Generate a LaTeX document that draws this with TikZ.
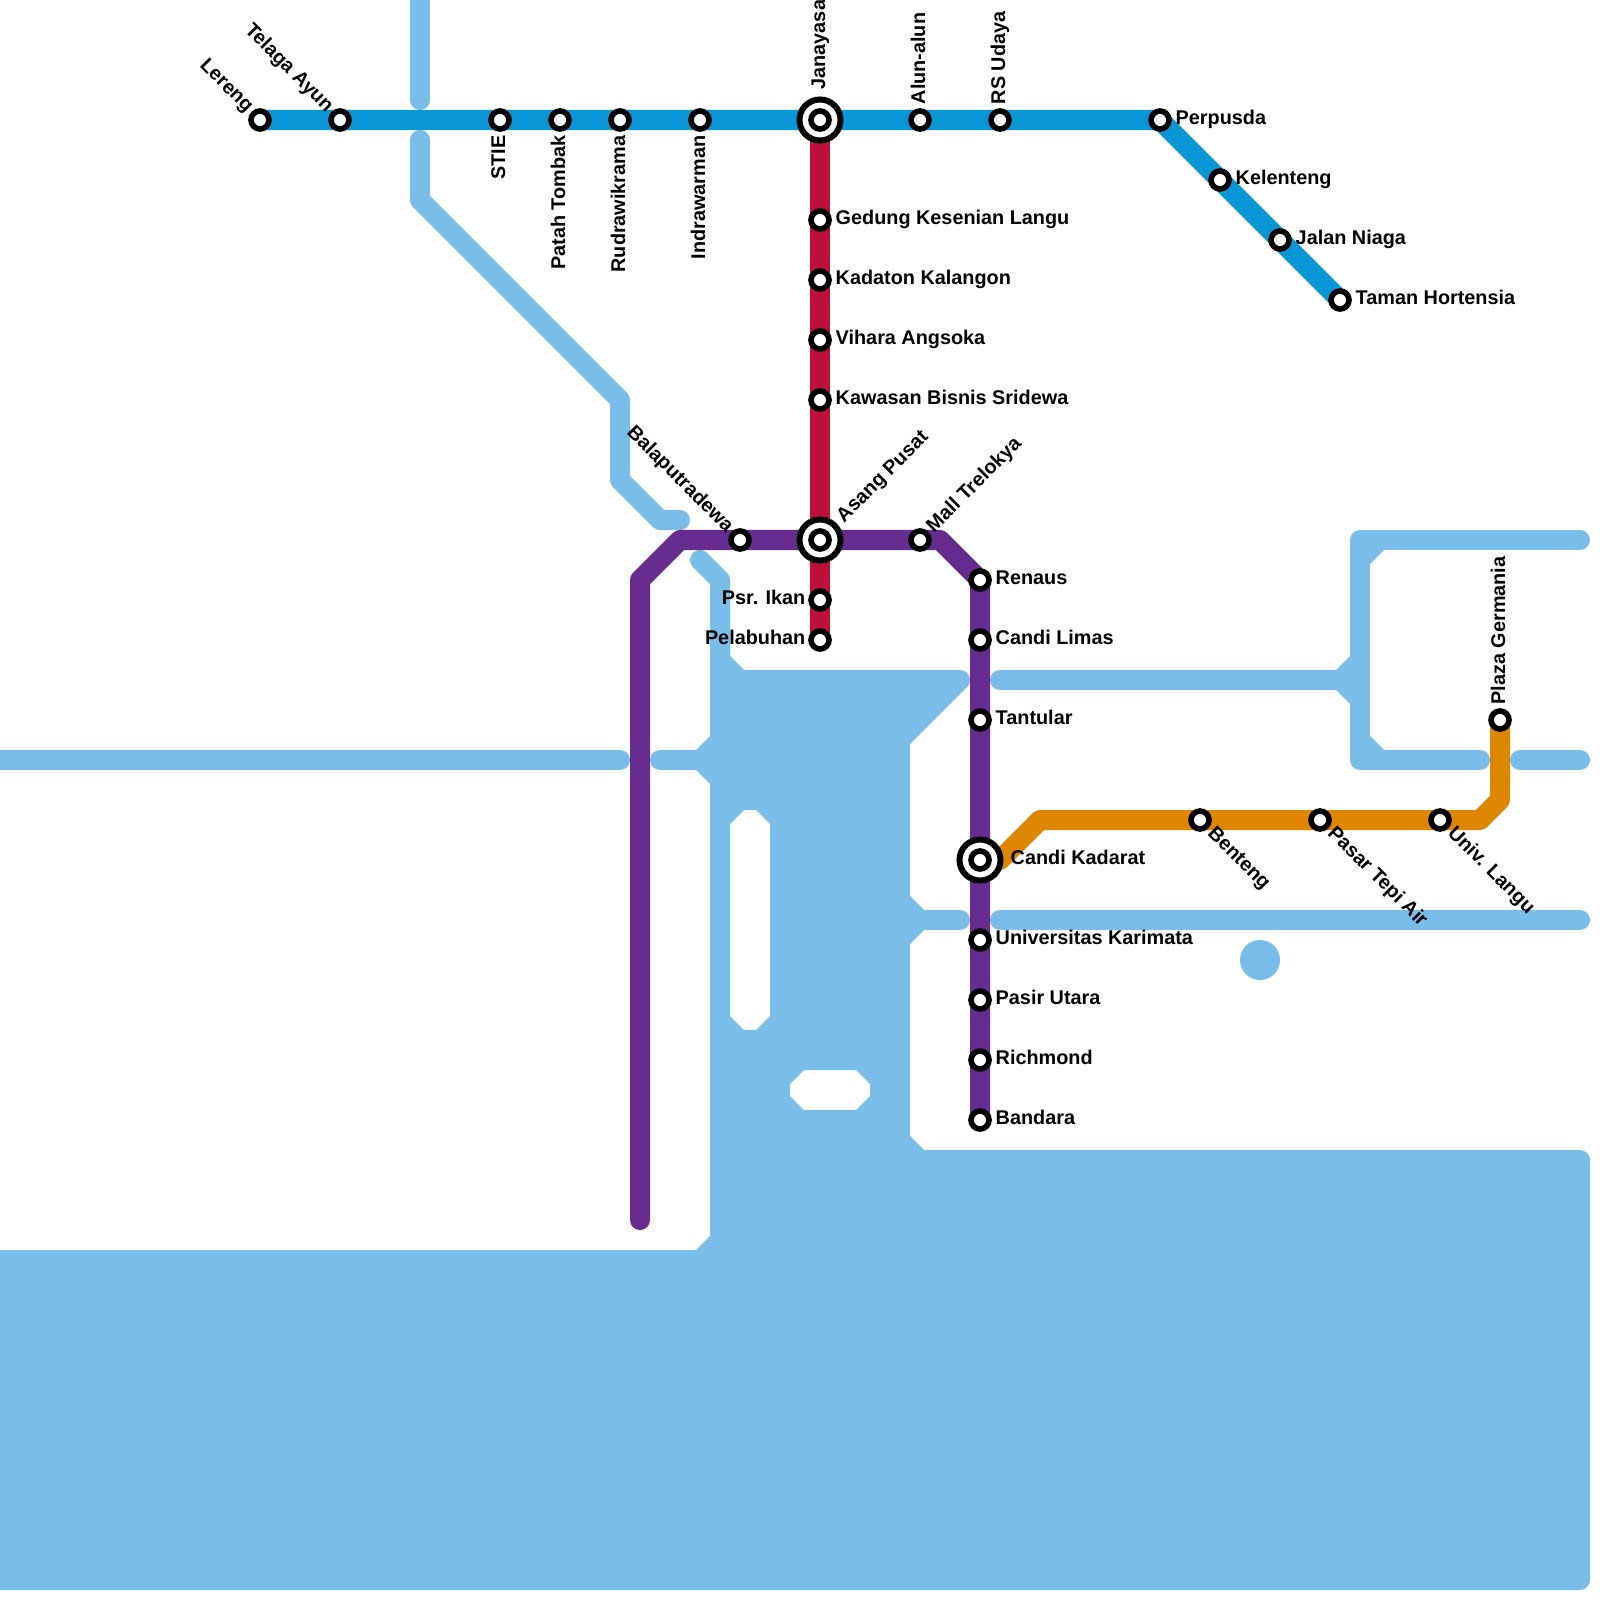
\documentclass[tikz,border=0pt]{standalone}
\usepackage{fontspec}
\setmainfont{Liberation Sans}
\usetikzlibrary{positioning, backgrounds}
\definecolor{waterblue}{HTML}{79BDE9}
\definecolor{lineblue}{HTML}{0896D7}
\definecolor{linered}{HTML}{BD1038}
\definecolor{linepurple}{HTML}{662C90}
\definecolor{lineorange}{HTML}{DF8600}

\begin{document}
\begin{tikzpicture}[
    x=0.01cm, y=-0.01cm,
    stn/.style={
      draw=black, fill=white, circle, inner sep=0pt,
      minimum size=0.18cm, line width=0.056cm
    },
    hub/.style={
      draw=black, fill=white, circle, inner sep=0pt,
      minimum size=0.41cm, line width=0.06cm
    },
    metro/.style={line width=0.2cm, line join=round},
    river/.style={line width=0.2cm, color=waterblue, line cap=round, line join=round},
    lbl/.style={font=\fontsize{5.64pt}{6.5pt}\selectfont\bfseries, inner sep=0pt, text=black,
      text height=4.1pt, text depth=1.2pt}
  ]
    \useasboundingbox (0,0) rectangle (1600,1600);

    % Interchanges
    \foreach \name/\x/\y in {janayasa/820/120, asangpusat/820/540, candikadarat/980/860} {
      \node[hub] (\name) at (\x,\y) {};
      \node[stn] (\name-c) at (\x,\y) {};
    }

    % Stations
    \foreach \name/\x/\y in {lereng/260/120, telagaayun/340/120, stie/500/120, patahtombak/560/120,
        rudrawikrama/620/120, indrawarman/700/120, alunalun/920/120, rsudaya/1000/120,
        perpusda/1160/120, kelenteng/1220/180, jalanniaga/1280/240, tamanhortensia/1340/300,
        gedung/820/220, kadaton/820/280, vihara/820/340, kawasan/820/400, psrikan/820/600,
        pelabuhan/820/640, balaputradewa/740/540, malltrelokya/920/540, renaus/980/580,
        candilimas/980/640, tantular/980/720, karimata/980/940, pasirutara/980/1000,
        richmond/980/1060, bandara/980/1120, benteng/1200/820, tepiair/1320/820,
        univlangu/1440/820, germania/1500/720} {
      \node[stn] (\name) at (\x,\y) {};
    }

    % Labels on the right
    \foreach \name/\txt in {perpusda/Perpusda, kelenteng/Kelenteng, jalanniaga/Jalan Niaga,
        tamanhortensia/Taman Hortensia, gedung/Gedung Kesenian Langu, kadaton/Kadaton Kalangon,
        vihara/Vihara Angsoka, kawasan/Kawasan Bisnis Sridewa, renaus/Renaus,
        candilimas/Candi Limas, tantular/Tantular, karimata/Universitas Karimata,
        pasirutara/Pasir Utara, richmond/Richmond, bandara/Bandara} {
      \node[lbl, anchor=west] (\name-l) at ([xshift=0.15cm, yshift=0.005cm]\name.center) {\txt};
    }
    \node[lbl, anchor=west] (candikadarat-l) at ([xshift=0.3cm, yshift=0.005cm]candikadarat.center) {Candi Kadarat};

    % Labels on the left
    \foreach \name/\txt in {psrikan/Psr. Ikan, pelabuhan/Pelabuhan} {
      \node[lbl, anchor=east] (\name-l) at ([xshift=-0.14cm, yshift=0.005cm]\name.center) {\txt};
    }

    % Labels going up
    \foreach \name/\txt in {alunalun/Alun-alun, rsudaya/RS Udaya, germania/Plaza Germania} {
      \node[lbl, rotate=90, anchor=west] (\name-l) at ([yshift=0.15cm]\name.center) {\txt};
    }
    \node[lbl, rotate=90, anchor=west] (janayasa-l) at ([yshift=0.3cm]janayasa.center) {Janayasa};

    % Labels going down
    \foreach \name/\txt in {stie/STIE, patahtombak/Patah Tombak, rudrawikrama/Rudrawikrama, indrawarman/Indrawarman} {
      \node[lbl, rotate=90, anchor=east] (\name-l) at ([yshift=-0.15cm]\name.center) {\txt};
    }

    % Diagonal labels
    \foreach \name/\txt in {lereng/Lereng, telagaayun/Telaga Ayun, balaputradewa/Balaputradewa} {
      \node[lbl, rotate=-45, anchor=east] (\name-l) at ([xshift=-0.1cm, yshift=0.1cm]\name.center) {\txt};
    }
    \foreach \name/\txt in {benteng/Benteng, tepiair/Pasar Tepi Air, univlangu/Univ. Langu} {
      \node[lbl, rotate=-45, anchor=west] (\name-l) at ([xshift=0.1cm, yshift=-0.1cm]\name.center) {\txt};
    }
    \node[lbl, rotate=45, anchor=west] (malltrelokya-l) at ([xshift=0.1cm, yshift=0.1cm]malltrelokya.center) {Mall Trelokya};
    \node[lbl, rotate=45, anchor=west] (asangpusat-l) at ([xshift=0.2cm, yshift=0.2cm]asangpusat.center) {Asang Pusat};

    \begin{scope}[on background layer]
      % Sea and channels
      \fill[waterblue, even odd rule]
        (0,1250) -- (696,1250) -- (710,1236) -- (710,784) -- (696,770) -- (696,750) -- (710,736)
        -- (710,600) -- (730,600) -- (730,656) -- (744,670) -- (960,670) -- (967,687) -- (910,744)
        -- (910,896) -- (924,910) -- (924,930) -- (910,944) -- (910,1136) -- (924,1150)
        [rounded corners=0.1cm] -- (1590,1150) -- (1590,1590) [sharp corners] -- (0,1590) -- cycle
        (744,810) -- (756,810) -- (770,824) -- (770,1016) -- (756,1030) -- (744,1030) -- (730,1016) -- (730,824) -- cycle
        (804,1070) -- (856,1070) -- (870,1084) -- (870,1096) -- (856,1110) -- (804,1110) -- (790,1096) -- (790,1084) -- cycle;
      \fill[waterblue] (1336,670) -- (1350,656) -- (1350,704) -- (1336,690) -- cycle;
      \fill[waterblue] (1370,564) -- (1384,550) -- (1370,550) -- cycle;
      \fill[waterblue] (1370,736) -- (1384,750) -- (1370,750) -- cycle;
      \fill[waterblue] (1260,960) circle (0.2cm);

      \draw[river] (420,-20) -- (420,100);
      \draw[river] (420,140) -- (420,200) -- (620,400) -- (620,480) -- (660,520) -- (680,520);
      \draw[river] (700,560) -- (720,580) -- (720,660);
      \draw[river] (-20,760) -- (620,760);
      \draw[river] (660,760) -- (720,760);
      \draw[river] (720,680) -- (960,680);
      \draw[river] (900,920) -- (960,920);
      \draw[river] (1000,680) -- (1360,680);
      \draw[river] (1000,920) -- (1580,920);
      \draw[river] (1580,540) -- (1360,540) -- (1360,760) -- (1480,760);
      \draw[river] (1520,760) -- (1580,760);

      % Lines
      \coordinate (purpleend) at (640,1220);
      \coordinate (purplea) at (640,580);
      \coordinate (purpleb) at (680,540);
      \coordinate (purplec) at (940,540);
      \coordinate (orangea) at (1000,860);
      \coordinate (orangeb) at (1040,820);
      \coordinate (orangec) at (1480,820);
      \coordinate (oranged) at (1500,800);
      \draw[metro, color=linered] (janayasa.center) -- (pelabuhan.center);
      \draw[metro, color=lineblue] (lereng.center) -- (perpusda.center) -- (tamanhortensia.center);
      \draw[metro, color=linepurple, line cap=round] (purpleend) -- (purplea) -- (purpleb) -- (purplec) -- (renaus.center) -- (bandara.center);
      \draw[metro, color=lineorange] (candikadarat.center) -- (orangea) -- (orangeb) -- (orangec) -- (oranged) -- (germania.center);
    \end{scope}
  \end{tikzpicture}
\end{document}
